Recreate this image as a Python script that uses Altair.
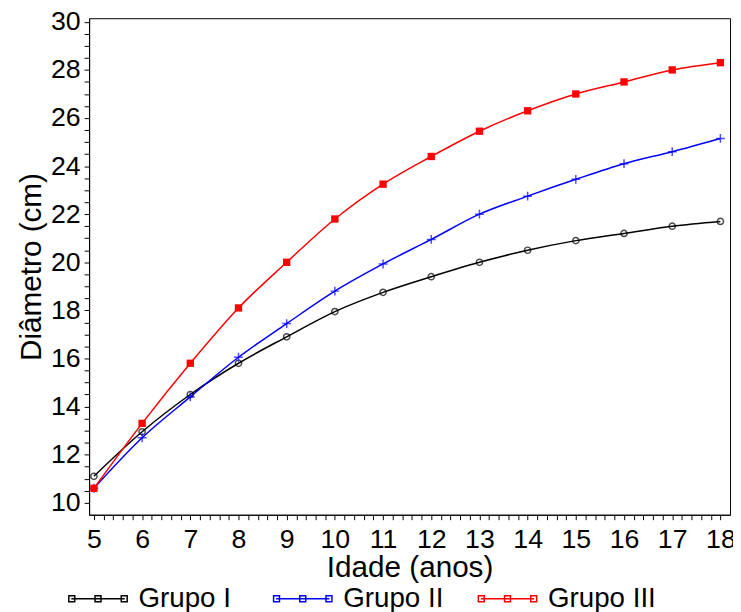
import altair as alt
import pandas as pd

idade = [5, 6, 7, 8, 9, 10, 11, 12, 13, 14, 15, 16, 17, 18]
grupo_1 = [11.1, 12.95, 14.5, 15.8, 16.9, 17.95, 18.75, 19.4, 20.0, 20.5, 20.9, 21.2, 21.5, 21.7]
grupo_2 = [10.6, 12.7, 14.4, 16.05, 17.45, 18.8, 19.93, 20.95, 22.0, 22.75, 23.45, 24.1, 24.6, 25.15]
grupo_3 = [10.6, 13.3, 15.8, 18.1, 20.0, 21.8, 23.25, 24.4, 25.45, 26.3, 27.0, 27.5, 28.0, 28.3]
grupos = ["Grupo I", "Grupo II", "Grupo III"]
cores = ["black", "blue", "red"]

rows = []
for nome, vals in zip(grupos, [grupo_1, grupo_2, grupo_3]):
    for a, v in zip(idade, vals):
        rows.append({"Idade": a, "Diametro": v, "Grupo": nome})
df = pd.DataFrame(rows)

FONT = "Liberation Sans"
x_ticks = [round(5 + 0.2 * i, 1) for i in range(66)]
y_ticks = [round(10 + 0.5 * i, 1) for i in range(41)]

x_enc = alt.X(
    "Idade:Q",
    scale=alt.Scale(domain=[4.9, 18.2], nice=False, zero=False),
    axis=alt.Axis(
        title="Idade (anos)", values=x_ticks, tickCount=200,
        labelExpr="datum.value % 1 === 0 ? format(datum.value, 'd') : ''",
        grid=False, tickSize=5, labelPadding=7, labelOverlap=False,
        labelFontSize=27, titleFontSize=30, titlePadding=0,
        labelFont=FONT, titleFont=FONT, titleFontWeight="normal",
        domainColor="black", tickColor="black", labelColor="black", titleColor="black",
    ),
)
y_enc = alt.Y(
    "Diametro:Q",
    scale=alt.Scale(domain=[9.5, 30.15], nice=False, zero=False),
    axis=alt.Axis(
        title="Diâmetro (cm)", values=y_ticks, tickCount=200,
        labelExpr="datum.value % 2 === 0 ? format(datum.value, 'd') : ''",
        grid=False, tickSize=5, labelPadding=4, labelOverlap=False,
        labelFontSize=27, titleFontSize=30, titlePadding=4,
        labelFont=FONT, titleFont=FONT, titleFontWeight="normal",
        domainColor="black", tickColor="black", labelColor="black", titleColor="black",
    ),
)

legend_symbol = (
    "M-5.4,0H5.4"
    "M-5.9,-0.6H-4.7V0.6H-5.9Z"
    "M-0.6,-0.6H0.6V0.6H-0.6Z"
    "M4.7,-0.6H5.9V0.6H4.7Z"
)

base = alt.Chart(df)

lines = base.mark_line(interpolate="monotone", strokeWidth=1.5).encode(
    x=x_enc,
    y=y_enc,
    color=alt.Color(
        "Grupo:N",
        scale=alt.Scale(domain=grupos, range=cores),
        legend=alt.Legend(
            title=None, orient="none", direction="horizontal",
            legendX=-5, legendY=573, columns=3, gridAlign="all",
            columnPadding=24, labelOffset=27,
            symbolType=legend_symbol, symbolSize=100, symbolStrokeWidth=1.5,
            labelFontSize=28, labelFont=FONT, labelColor="black",
            padding=0,
        ),
    ),
)

p1 = base.mark_point(shape="circle", filled=False, color="black", size=40, strokeWidth=1.5).encode(
    x="Idade:Q", y="Diametro:Q"
).transform_filter(alt.datum.Grupo == "Grupo I")

p2 = base.mark_point(shape="M-1,0H1M0,-1V1", filled=False, color="blue", size=80, strokeWidth=1.5).encode(
    x="Idade:Q", y="Diametro:Q"
).transform_filter(alt.datum.Grupo == "Grupo II")

p3 = base.mark_point(shape="square", filled=True, color="red", size=55, opacity=1).encode(
    x="Idade:Q", y="Diametro:Q"
).transform_filter(alt.datum.Grupo == "Grupo III")

chart = alt.layer(lines, p1, p2, p3).properties(
    width=648,
    height=502,
    autosize=alt.AutoSizeParams(type="none"),
    padding={"left": 82, "top": 7, "right": 3, "bottom": 95},
).configure_view(stroke="black", strokeWidth=1)

chart.save("out.html", embed_options={"renderer": "svg", "actions": False})
